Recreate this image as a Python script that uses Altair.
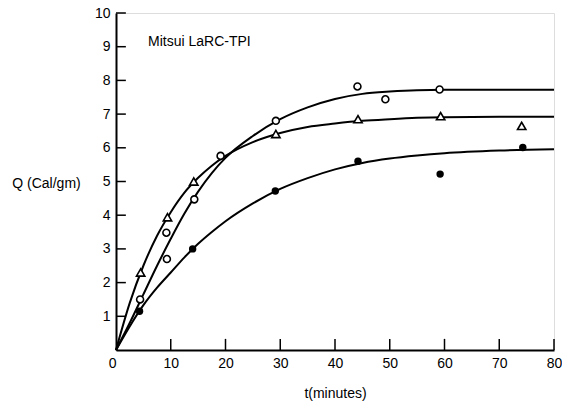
import altair as alt
import pandas as pd

t_circle = [4.4, 9.2, 9.3, 14.3, 19.1, 29.2, 44.1, 49.2, 59.1]
q_circle = [1.5, 3.48, 2.7, 4.47, 5.76, 6.8, 7.82, 7.44, 7.73]
t_tri = [4.5, 9.4, 14.2, 29.2, 44.2, 59.3, 74.1]
q_tri = [2.3, 3.94, 5.0, 6.41, 6.85, 6.94, 6.65]
t_dot = [4.3, 14.0, 29.1, 44.2, 59.2, 74.3]
q_dot = [1.15, 3.0, 4.72, 5.6, 5.22, 6.01]

# Curves
t_curve = [0, 2.5, 5, 7.5, 10, 12.5, 15, 17.5, 20, 25, 30, 35, 40, 45, 50, 55, 60, 70, 80]
qc_circle = [0, 0.8, 1.65, 2.5, 3.3, 4.05, 4.7, 5.25, 5.7, 6.35, 6.85, 7.2, 7.45, 7.6, 7.67, 7.71, 7.72, 7.72, 7.72]
qc_tri = [0, 1.39, 2.5, 3.39, 4.09, 4.67, 5.11, 5.47, 5.76, 6.17, 6.44, 6.62, 6.72, 6.8, 6.85, 6.89, 6.91, 6.92, 6.92]
qc_dot = [0, 0.7, 1.33, 1.85, 2.3, 2.75, 3.15, 3.5, 3.82, 4.35, 4.78, 5.1, 5.36, 5.55, 5.68, 5.77, 5.84, 5.92, 5.96]

x_ticks = [10, 20, 30, 40, 50, 60, 70, 80]
y_ticks = [1, 2, 3, 4, 5, 6, 7, 8, 9, 10]

FONT = "Liberation Sans"
W, H = 438, 337

curves = pd.concat([
    pd.DataFrame({"t": t_curve, "q": qc_circle, "s": "circle"}),
    pd.DataFrame({"t": t_curve, "q": qc_tri, "s": "tri"}),
    pd.DataFrame({"t": t_curve, "q": qc_dot, "s": "dot"}),
])

xs = alt.Scale(domain=[0, 80], nice=False)
ys = alt.Scale(domain=[0, 10], nice=False)

xaxis = alt.Axis(values=[0] + x_ticks, ticks=False, tickSize=0, grid=False, domainColor="black",
                 domainWidth=2, labelFont=FONT, labelFontSize=14, labelColor="black",
                 labelPadding=6, labelOverlap=False,
                 labelAlign=alt.condition("datum.value == 0", alt.value("right"), alt.value("center")),
                 labelFlush=False,
                 title="t(minutes)", titleFont=FONT, titleFontSize=14, titleFontWeight="normal",
                 titleColor="black", titleY=43, titleBaseline="middle")
yaxis = alt.Axis(values=y_ticks, ticks=False, tickSize=0, grid=False, domainColor="black",
                 domainWidth=2, labelFont=FONT, labelFontSize=14, labelColor="black",
                 labelPadding=6, labelFlush=False, labelOverlap=False,
                 title="Q (Cal/gm)", titleFont=FONT, titleFontSize=14, titleFontWeight="normal",
                 titleColor="black", titleAngle=0, titleX=-70, titleY=170,
                 titleAlign="center", titleBaseline="middle")

lines = alt.Chart(curves).mark_line(color="black", strokeWidth=2, interpolate="monotone").encode(
    x=alt.X("t:Q", scale=xs, axis=xaxis),
    y=alt.Y("q:Q", scale=ys, axis=yaxis),
    detail="s:N",
)

def pts(t, q, **kw):
    return alt.Chart(pd.DataFrame({"t": t, "q": q})).mark_point(opacity=1, **kw).encode(
        x=alt.X("t:Q", scale=xs, axis=xaxis), y=alt.Y("q:Q", scale=ys, axis=yaxis))

circ = pts(t_circle, q_circle, shape="circle", filled=True, fill="white", stroke="black",
           strokeWidth=1.6, size=48)
tri = pts(t_tri, q_tri, shape="triangle-up", filled=True, fill="white", stroke="black",
          strokeWidth=1.6, size=70)
dot = pts(t_dot, q_dot, shape="circle", filled=True, fill="black", size=55)

xt = alt.Chart(pd.DataFrame({"v": x_ticks})).mark_rule(color="black", strokeWidth=1.5).encode(
    x=alt.X("v:Q", scale=xs, axis=xaxis), y=alt.datum(0, scale=ys, axis=yaxis), y2=alt.datum(0.33))
yt = alt.Chart(pd.DataFrame({"v": y_ticks})).mark_rule(color="black", strokeWidth=1.5).encode(
    y=alt.Y("v:Q", scale=ys, axis=yaxis), x=alt.datum(0, scale=xs, axis=xaxis), x2=alt.datum(1.8))

label = alt.Chart(pd.DataFrame({"txt": ["Mitsui LaRC-TPI"]})).mark_text(
    font=FONT, fontSize=14, align="left", baseline="middle", color="black"
).encode(x=alt.value(32), y=alt.value(29), text="txt:N")

chart = alt.layer(lines, xt, yt, circ, tri, dot, label).properties(
    width=W, height=H,
    autosize=alt.AutoSizeParams(type="none"),
    padding={"left": 116, "top": 13, "right": 8, "bottom": 55},
).configure_view(stroke=None).configure(background="white")

chart.save("out.html", embed_options={"renderer": "svg", "actions": False})
